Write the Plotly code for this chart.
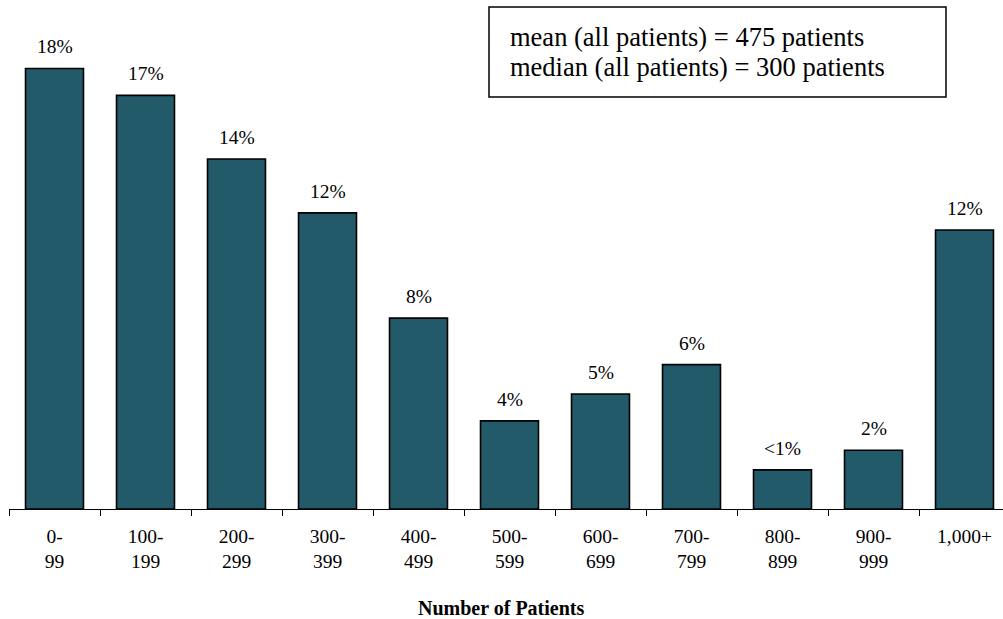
import plotly.graph_objects as go

categories = ["0-<br>99", "100-<br>199", "200-<br>299", "300-<br>399", "400-<br>499",
              "500-<br>599", "600-<br>699", "700-<br>799", "800-<br>899", "900-<br>999", "1,000+"]
values = [18.0, 16.9, 14.3, 12.1, 7.8, 3.6, 4.7, 5.9, 1.6, 2.4, 11.4]
labels = ["18%", "17%", "14%", "12%", "8%", "4%", "5%", "6%", "<1%", "2%", "12%"]
x_title = "Number of Patients"
stats_text = ["mean (all patients) = 475 patients", "median (all patients) = 300 patients"]

FONT = "Liberation Serif"
W, H = 1003, 619
L, R, T, B = 9, 0, 0, 109.5
plot_w = W - L - R
plot_h = H - T - B
CAT_PX = 91.0  # pixel width of one category


def px_x(x):
    return (x - L) / plot_w


def px_y(y):
    return 1 - (y - T) / plot_h


fig = go.Figure()
fig.add_trace(go.Bar(
    x=categories, y=values,
    marker=dict(color="#235A69", line=dict(color="#000000", width=1.6)),
    hoverinfo="skip",
))

for c, v, lab in zip(categories, values, labels):
    fig.add_annotation(x=c, y=v, text=lab, showarrow=False, yanchor="bottom",
                       yshift=9, font=dict(family=FONT, size=19.5, color="#000"))

# stats box
bx0, bx1, by0, by1 = 489, 946, 7, 97
fig.add_shape(type="rect", xref="paper", yref="paper",
              x0=px_x(bx0), x1=px_x(bx1), y0=px_y(by1), y1=px_y(by0),
              line=dict(color="#000", width=1.5), fillcolor="white")
for i, line in enumerate(stats_text):
    fig.add_annotation(xref="paper", yref="paper", x=px_x(508), y=px_y(37 + 30 * i),
                       text=line, showarrow=False, xanchor="left", yanchor="middle",
                       align="left", font=dict(family=FONT, size=26.5, color="#000"))

fig.add_annotation(xref="paper", yref="paper", x=px_x(501), y=px_y(609),
                   text="<b>" + x_title + "</b>", showarrow=False, xanchor="center", yanchor="middle",
                   font=dict(family=FONT, size=20, color="#000"))

fig.update_layout(
    width=W, height=H,
    margin=dict(l=L, r=R, t=T, b=B, autoexpand=False),
    paper_bgcolor="white", plot_bgcolor="white",
    bargap=0.363,
    showlegend=False,
    font=dict(family=FONT, size=19.5, color="#000"),
)
fig.update_xaxes(showline=True, linecolor="#000", linewidth=1.3, automargin=False,
                 range=[-0.5, -0.5 + plot_w / CAT_PX],
                 ticks="outside", tickson="boundaries", ticklen=6, tickwidth=1.3, tickcolor="#000",
                 ticklabelstandoff=9,
                 tickfont=dict(family=FONT, size=19.5, color="#000"), showgrid=False)
fig.update_yaxes(range=[0, plot_h / 24.5], visible=False, showgrid=False, zeroline=False)

fig.write_html("out.html", config={"displayModeBar": False},
               post_script="document.body.style.margin='0';document.body.style.padding='0';")
